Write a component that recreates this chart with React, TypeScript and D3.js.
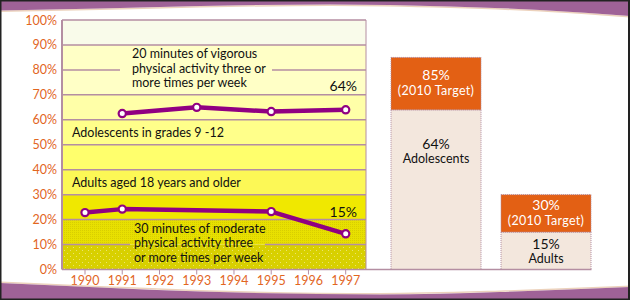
import React from "react";
import * as d3 from "d3";

const years = [1990, 1991, 1992, 1993, 1994, 1995, 1996, 1997];
const yTicks = [0, 10, 20, 30, 40, 50, 60, 70, 80, 90, 100];

const adolYears = [1991, 1993, 1995, 1997];
const adolValues = [62.5, 65, 63.3, 64];
const adultYears = [1990, 1991, 1995, 1997];
const adultValues = [22.8, 24.2, 23.2, 14.3];

const barCategories = ["Adolescents", "Adults"];
const barCurrent = [64, 15];
const barTarget = [85, 30];
const barCurrentLabels = ["64%", "15%"];
const barTargetLabels = ["85%", "30%"];
const barNames = ["Adolescents", "Adults"];

const bandBounds = [0, 10, 20, 30, 40, 50, 60, 70, 90, 100];
const bandColors = ["url(#dots0)", "url(#dots1)", "#f0e800", "#fcf856", "#ffff6c", "#ffff8a", "#ffffa8", "#ffffc6", "#f9fbea"];

const vigText = ["20 minutes of vigorous", "physical activity three or", "more times per week"];
const modText = ["30 minutes of moderate", "physical activity three", "or more times per week"];

const FONT = "Lato, 'Open Sans', sans-serif";
const ORANGE = "#e2661f";
const PURPLE = "#900082";
const GRID = "#b48ea2";
const FRAME = "#9f6297";

export default function App() {
  const W = 630, H = 300;
  const x = d3.scaleLinear().domain([1990, 1997]).range([85, 345.7]);
  const y = d3.scaleLinear().domain([0, 100]).range([269.5, 20]);
  const plotL = 62, plotR = 366;
  const xb = d3.scaleBand().domain(barCategories).range([391, 591]).paddingInner(20 / 110).paddingOuter(0);

  const line = d3.line<[number, number]>().x(d => x(d[0])).y(d => y(d[1]));
  const adolPts: [number, number][] = adolYears.map((yr, i) => [yr, adolValues[i]]);
  const adultPts: [number, number][] = adultYears.map((yr, i) => [yr, adultValues[i]]);

  const curve = d3.line<[number, number]>().curve(d3.curveMonotoneX);
  const topEdge: [number, number][] = [[0, 10.5], [100, 8.5], [200, 6], [330, 4.5], [450, 6.5], [540, 10], [630, 16]];
  const botEdge: [number, number][] = [[0, 283], [100, 287.5], [200, 291.5], [380, 294.5], [500, 292], [630, 287]];
  const topPath = "M0,0 L630,0 L630,16 " + curve(topEdge.slice().reverse())!.replace(/^M/, "L") + " Z";
  const botPath = "M0,300 " + curve(botEdge)!.replace(/^M/, "L") + " L630,300 Z";

  const bands = bandColors.map((c, i) => ({ lo: bandBounds[i], hi: bandBounds[i + 1], c }));

  return (
    <svg width={W} height={H} style={{ position: "absolute", left: 0, top: 0, background: "#fff" }} fontFamily={FONT}>
      <defs>
        <pattern id="dots0" width="6" height="6" patternUnits="userSpaceOnUse">
          <rect width="6" height="6" fill="#d8d000" />
          <rect x="1" y="1" width="1" height="1" fill="#ece470" />
          <rect x="4" y="4" width="1" height="1" fill="#ece470" />
        </pattern>
        <pattern id="dots1" width="2" height="2" patternUnits="userSpaceOnUse">
          <rect width="2" height="2" fill="#e8e000" />
          <rect x="0" y="0" width="1" height="1" fill="#d8ce00" />
        </pattern>
      </defs>
      <rect width={W} height={H} fill="#fff" />

      {bands.map((b, i) => (
        <rect key={i} x={plotL} y={y(b.hi)} width={plotR - plotL} height={y(b.lo) - y(b.hi)} fill={b.c} />
      ))}

      {yTicks.filter(t => t > 0 && t !== 80 && t !== 10).map(t => (
        <line key={t} x1={plotL} x2={plotR} y1={y(t)} y2={y(t)} stroke={GRID} strokeWidth={1.5} />
      ))}
      <line x1={plotL} x2={120} y1={y(80)} y2={y(80)} stroke={GRID} strokeWidth={1.5} />
      <line x1={272} x2={plotR} y1={y(80)} y2={y(80)} stroke={GRID} strokeWidth={1.5} />
      <line x1={plotL} x2={130} y1={y(10)} y2={y(10)} stroke={GRID} strokeWidth={1.5} />
      <line x1={265} x2={plotR} y1={y(10)} y2={y(10)} stroke={GRID} strokeWidth={1.5} />
      <line x1={plotR} x2={plotR} y1={y(100)} y2={y(0)} stroke={GRID} strokeWidth={1} />
      <line x1={plotL} x2={plotL} y1={y(100)} y2={y(0)} stroke={GRID} strokeWidth={2} />

      {barCategories.map((c, i) => {
        const bx = xb(c)!;
        const bw = xb.bandwidth();
        const cx = bx + bw / 2;
        return (
          <g key={c}>
            <rect x={bx} y={y(barCurrent[i])} width={bw} height={y(0) - y(barCurrent[i])} fill="#f3e7dd" stroke="#b08aa0" strokeWidth={1} strokeDasharray="1,1" />
            <rect x={bx} y={y(barTarget[i])} width={bw} height={y(barCurrent[i]) - y(barTarget[i])} fill="#e36014" stroke="#b08aa0" strokeWidth={1} strokeDasharray="1,1" />
            <text x={cx} y={y(barTarget[i]) + (i === 0 ? 23 : 15)} textAnchor="middle" fill="#fff" fontSize={14}>{barTargetLabels[i]}</text>
            <text x={cx} y={y(barTarget[i]) + (i === 0 ? 38 : 30)} textAnchor="middle" fill="#fff" fontSize={12.5} letterSpacing={0.3}>(2010 Target)</text>
            <text x={cx} y={y(barCurrent[i]) + (i === 0 ? 39 : 17)} textAnchor="middle" fill="#111" fontSize={14}>{barCurrentLabels[i]}</text>
            <text x={cx} y={y(barCurrent[i]) + (i === 0 ? 53 : 31)} textAnchor="middle" fill="#111" fontSize={12.5}>{barNames[i]}</text>
          </g>
        );
      })}

      <line x1={plotL} x2={591.5} y1={y(0)} y2={y(0)} stroke={GRID} strokeWidth={1.5} />

      {years.map(yr => (
        <g key={yr}>
          <line x1={x(yr)} x2={x(yr)} y1={y(0)} y2={y(0) + 5} stroke={GRID} strokeWidth={1} />
          <text x={x(yr)} y={285} textAnchor="middle" fill={ORANGE} fontSize={12.5}>{yr}</text>
        </g>
      ))}
      {yTicks.map(t => (
        <text key={t} x={57} y={y(t) + 4.5} textAnchor="end" fill={ORANGE} fontSize={12.5}>{t}%</text>
      ))}

      {vigText.map((s, i) => (
        <text key={s} x={132} y={58 + i * 14.5} fill="#111" fontSize={12.5}>{s}</text>
      ))}
      {modText.map((s, i) => (
        <text key={s} x={134} y={232.5 + i * 14.5} fill="#111" fontSize={12.5}>{s}</text>
      ))}
      <text x={72} y={137} fill="#111" fontSize={12.5}>Adolescents in grades 9 -12</text>
      <text x={72} y={187} fill="#111" fontSize={12.5}>Adults aged 18 years and older</text>
      <text x={357} y={91} textAnchor="end" fill="#111" fontSize={14}>64%</text>
      <text x={357} y={216.5} textAnchor="end" fill="#111" fontSize={14}>15%</text>

      <path d={line(adolPts)!} fill="none" stroke={PURPLE} strokeWidth={4.5} strokeLinejoin="round" />
      <path d={line(adultPts)!} fill="none" stroke={PURPLE} strokeWidth={4.5} strokeLinejoin="round" />
      {adolPts.map((p, i) => (
        <circle key={"a" + i} cx={x(p[0])} cy={y(p[1])} r={3.6} fill="#fff" stroke={PURPLE} strokeWidth={2.2} />
      ))}
      {adultPts.map((p, i) => (
        <circle key={"b" + i} cx={x(p[0])} cy={y(p[1])} r={3.6} fill="#fff" stroke={PURPLE} strokeWidth={2.2} />
      ))}

      <path d={curve(topEdge.map(p => [p[0], p[1] + 0.8]) as [number, number][])!} fill="none" stroke="#ecd2bc" strokeWidth={1.5} />
      <path d={curve(botEdge.map(p => [p[0], p[1] - 0.8]) as [number, number][])!} fill="none" stroke="#ecd2bc" strokeWidth={1.5} />
      <path d={topPath} fill={FRAME} />
      <path d={botPath} fill={FRAME} />
      <rect x={0} y={0} width={W} height={1.5} fill="#222" />
      <rect x={0} y={H - 1.5} width={W} height={1.5} fill="#222" />
      <rect x={0} y={0} width={1.5} height={H} fill="#222" />
      <rect x={W - 2} y={0} width={2} height={H} fill="#222" />
    </svg>
  );
}
